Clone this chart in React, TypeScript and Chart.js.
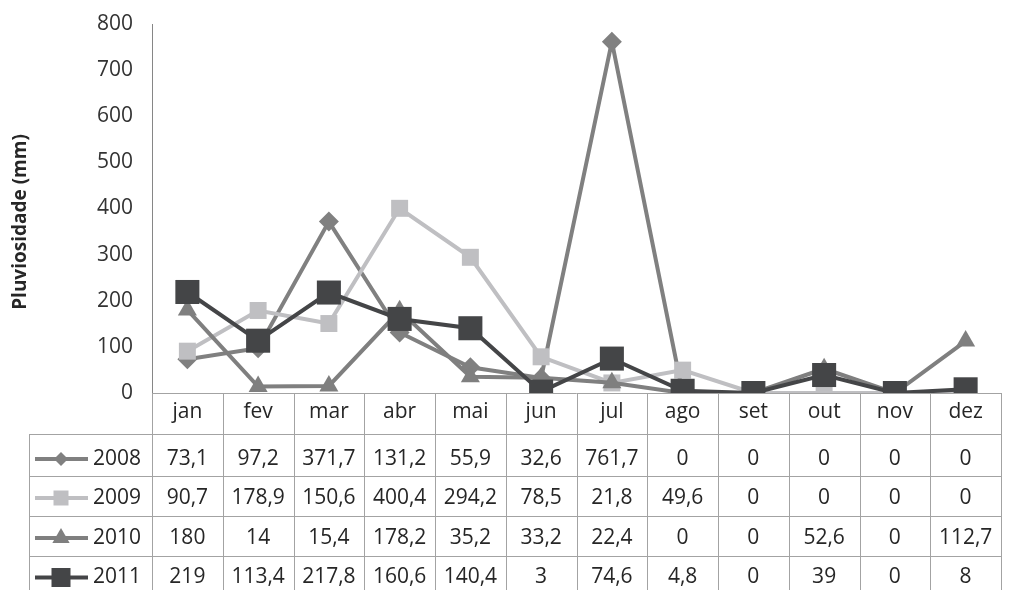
import React, { useEffect, useRef } from "react";
import { Chart, registerables } from "chart.js";

Chart.register(...registerables);

const months = ["jan", "fev", "mar", "abr", "mai", "jun", "jul", "ago", "set", "out", "nov", "dez"];
const years = ["2008", "2009", "2010", "2011"];
const s2008 = [73.1, 97.2, 371.7, 131.2, 55.9, 32.6, 761.7, 0, 0, 0, 0, 0];
const s2009 = [90.7, 178.9, 150.6, 400.4, 294.2, 78.5, 21.8, 49.6, 0, 0, 0, 0];
const s2010 = [180, 14, 15.4, 178.2, 35.2, 33.2, 22.4, 0, 0, 52.6, 0, 112.7];
const s2011 = [219, 113.4, 217.8, 160.6, 140.4, 3, 74.6, 4.8, 0, 39, 0, 8];
const seriesValues = [s2008, s2009, s2010, s2011];
const yTicks = [0, 100, 200, 300, 400, 500, 600, 700, 800];
const yTitle = "Pluviosidade (mm)";

const colors = ["#808080", "#bfbfc2", "#7f7f7f", "#444547"];
const styles = ["rectRot", "rect", "triangle", "rect"];
const radii = [10, 12, 11, 17];
const FONT = "'Open Sans', sans-serif";

const fmt = (v: number) => String(v).replace(".", ",");

function drawMarker(ctx: CanvasRenderingContext2D, kind: number, x: number, y: number) {
  ctx.fillStyle = colors[kind];
  ctx.beginPath();
  if (kind === 0) {
    const r = 7;
    ctx.moveTo(x, y - r);
    ctx.lineTo(x + r, y);
    ctx.lineTo(x, y + r);
    ctx.lineTo(x - r, y);
  } else if (kind === 1) {
    const h = 7.5;
    ctx.rect(x - h, y - h, 2 * h, 2 * h);
  } else if (kind === 2) {
    const r = 10;
    ctx.moveTo(x, y - r);
    ctx.lineTo(x + r * 0.866, y + r / 2);
    ctx.lineTo(x - r * 0.866, y + r / 2);
  } else {
    const h = 9.5;
    ctx.rect(x - h, y - h, 2 * h, 2 * h);
  }
  ctx.closePath();
  ctx.fill();
}

const AREA_TOP = 24;
const AREA_BOTTOM = 393;

const fixAreaPlugin = {
  id: "fixArea",
  afterLayout(chart: any) {
    const ys = chart.scales.y;
    ys.top = AREA_TOP;
    ys.bottom = AREA_BOTTOM;
    ys.height = AREA_BOTTOM - AREA_TOP;
    ys.configure();
    const ca = chart.chartArea;
    ca.top = AREA_TOP;
    ca.bottom = AREA_BOTTOM;
    ca.height = AREA_BOTTOM - AREA_TOP;
  },
};

const tablePlugin = {
  id: "dataTable",
  afterDraw(chart: any) {
    const ctx: CanvasRenderingContext2D = chart.ctx;
    const area = chart.chartArea;
    const xs = chart.scales.x;
    const left = area.left;
    const right = area.right;
    const colW = (right - left) / months.length;
    const top = area.bottom;
    const headerBottom = top + 41;
    const rowLines = [headerBottom, headerBottom + 42, headerBottom + 82, headerBottom + 122, headerBottom + 162];
    const rowCenters = [459, 498, 538, 577.5];
    const legendLeft = 29;
    ctx.save();
    // y axis title
    ctx.save();
    ctx.translate(21, 222);
    ctx.rotate(-Math.PI / 2);
    ctx.fillStyle = "#262626";
    ctx.font = `bold 19px ${FONT}`;
    ctx.textAlign = "center";
    ctx.textBaseline = "middle";
    ctx.fillText(yTitle, 0, 0);
    ctx.restore();

    ctx.strokeStyle = "#a3a3a3";
    ctx.lineWidth = 1;
    ctx.beginPath();
    ctx.moveTo(left, top + 0.5);
    ctx.lineTo(right, top + 0.5);
    ctx.stroke();
    for (let i = 0; i <= months.length; i++) {
      const x = Math.round(left + i * colW) + 0.5;
      ctx.beginPath();
      ctx.moveTo(x, top);
      ctx.lineTo(x, rowLines[rowLines.length - 1]);
      ctx.stroke();
    }
    ctx.beginPath();
    ctx.moveTo(legendLeft + 0.5, headerBottom);
    ctx.lineTo(legendLeft + 0.5, rowLines[rowLines.length - 1]);
    ctx.stroke();
    for (const ly of rowLines) {
      ctx.beginPath();
      ctx.moveTo(legendLeft, Math.round(ly) + 0.5);
      ctx.lineTo(right, Math.round(ly) + 0.5);
      ctx.stroke();
    }
    ctx.fillStyle = "#262626";
    ctx.font = `21px ${FONT}`;
    ctx.textAlign = "center";
    ctx.textBaseline = "middle";
    months.forEach((m, i) => {
      const x = xs.getPixelForValue(i);
      ctx.fillText(m, x, top + 19);
    });
    seriesValues.forEach((vals, r) => {
      const cy = rowCenters[r];
      vals.forEach((v, i) => {
        ctx.fillStyle = "#262626";
        ctx.textAlign = "center";
        ctx.fillText(fmt(v), xs.getPixelForValue(i), cy);
      });
      ctx.strokeStyle = colors[r];
      ctx.lineWidth = 4;
      ctx.beginPath();
      ctx.moveTo(35, cy);
      ctx.lineTo(88, cy);
      ctx.stroke();
      drawMarker(ctx, r, 61, cy);
      ctx.fillStyle = "#262626";
      ctx.textAlign = "left";
      ctx.fillText(years[r], 93, cy);
    });
    ctx.restore();
  },
};

export default function App() {
  const ref = useRef<HTMLCanvasElement | null>(null);
  useEffect(() => {
    document.body.style.margin = "0";
    const canvas = ref.current!;
    const chart = new Chart(canvas, {
      type: "line",
      data: {
        labels: months,
        datasets: years.map((y, i) => ({
          label: y,
          data: seriesValues[i],
          borderColor: colors[i],
          backgroundColor: colors[i],
          borderWidth: 4,
          pointStyle: styles[i] as any,
          pointRadius: radii[i],
          pointHoverRadius: radii[i],
          pointBorderWidth: 0,
          pointBackgroundColor: colors[i],
          tension: 0,
          order: 4 - i,
        })),
      },
      options: {
        responsive: false,
        animation: false,
        devicePixelRatio: 1,
        layout: { padding: { top: 24, bottom: 197, left: 0, right: 0 } },
        plugins: { legend: { display: false }, tooltip: { enabled: false } },
        scales: {
          x: {
            display: false,
            offset: true,
          },
          y: {
            min: 0,
            max: 800,
            afterBuildTicks: (scale: any) => {
              scale.ticks = yTicks.map((v) => ({ value: v }));
            },
            afterFit: (scale: any) => {
              scale.width = 152;
            },
            grid: { display: false, drawTicks: false },
            border: { display: true, color: "#868686", width: 1 },
            ticks: {
              padding: 19,
              color: "#333333",
              font: { family: FONT, size: 21 },
            },
            title: { display: false },
          },
        },
      },
      plugins: [fixAreaPlugin, tablePlugin],
    });
    return () => chart.destroy();
  }, []);
  return (
    <div style={{ width: 1018, height: 590 }}>
      <canvas ref={ref} width={1018} height={590} style={{ display: "block" }} />
    </div>
  );
}
